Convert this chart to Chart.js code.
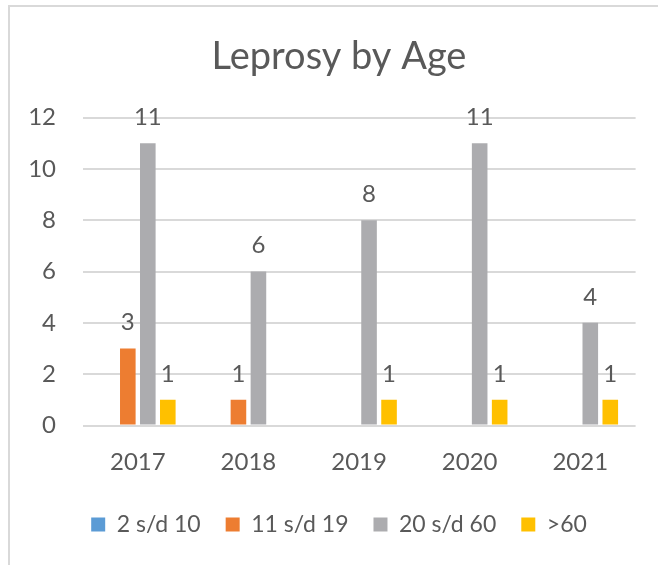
<!DOCTYPE html>
<html>
<head>
<meta charset="utf-8">
<script src="https://cdn.jsdelivr.net/npm/chart.js@4.4.1/dist/chart.umd.min.js"></script>
<style>
  html, body { margin: 0; padding: 0; background: #fff; }
  #wrap { position: relative; width: 658px; height: 565px; overflow: hidden; }
  #frame { position: absolute; left: 8px; top: 5px; width: 700px; height: 600px; border-left: 2px solid #d9d9d9; border-top: 2px solid #d9d9d9; }
  #c { position: absolute; left: 0; top: 0; }
</style>
</head>
<body>
<div id="wrap">
  <div id="frame"></div>
  <canvas id="c" width="658" height="565"></canvas>
</div>
<script>
const titleText = "Leprosy by Age";
const categories = ["2017", "2018", "2019", "2020", "2021"];
const seriesNames = ["2 s/d 10", "11 s/d 19", "20 s/d 60", ">60"];
const age2to10 = [0, 0, 0, 0, 0];
const age11to19 = [3, 1, 0, 0, 0];
const age20to60 = [11, 6, 8, 11, 4];
const age60plus = [1, 0, 1, 1, 1];
const yTicks = [0, 2, 4, 6, 8, 10, 12];

const colors = ["#5B9BD5", "#ED7D31", "#ACACAF", "#FFC000"];
const textColor = "#595959";
const FONT = "Lato";

const seriesValues = [age2to10, age11to19, age20to60, age60plus];

const dataLabels = {
  id: "dataLabels",
  afterDatasetsDraw(chart) {
    const ctx = chart.ctx;
    ctx.save();
    ctx.font = "24px " + FONT;
    ctx.fillStyle = textColor;
    ctx.textAlign = "center";
    ctx.textBaseline = "middle";
    chart.data.datasets.forEach((ds, di) => {
      const meta = chart.getDatasetMeta(di);
      meta.data.forEach((bar, i) => {
        const v = ds.data[i];
        if (v > 0) ctx.fillText(String(v), bar.x, bar.y - 26);
      });
    });
    ctx.restore();
  }
};

new Chart(document.getElementById("c"), {
  type: "bar",
  data: {
    labels: categories,
    datasets: seriesNames.map((name, k) => ({
      label: name,
      data: seriesValues[k],
      backgroundColor: colors[k],
      borderWidth: 0,
      categoryPercentage: 0.723,
      barPercentage: 0.78
    }))
  },
  options: {
    responsive: false,
    animation: false,
    devicePixelRatio: 1,
    layout: { padding: { left: 28, right: 8, top: 0, bottom: 19 } },
    plugins: {
      title: {
        display: true,
        text: titleText,
        color: textColor,
        font: { family: FONT, size: 38, weight: "normal", lineHeight: 1.2 },
        padding: { top: 34, bottom: 38 }
      },
      legend: {
        position: "bottom",
        labels: {
          color: textColor,
          font: { family: FONT, size: 23 },
          boxWidth: 14,
          boxHeight: 14,
          padding: 25
        }
      },
      tooltip: { enabled: false }
    },
    scales: {
      x: {
        grid: { display: false },
        border: { display: false },
        ticks: { color: textColor, font: { family: FONT, size: 24 }, padding: 14.5 },
        afterFit(scale) { scale.height = 62.5; }
      },
      y: {
        min: 0,
        max: 12,
        afterBuildTicks(scale) { scale.ticks = yTicks.map(v => ({ value: v })); },
        grid: { color: "#d9d9d9", lineWidth: 2, drawTicks: false },
        border: { display: false },
        ticks: { color: textColor, font: { family: FONT, size: 24 }, padding: 26.5 },
        afterFit(scale) { scale.width = 54.5; }
      },
      spacer: {
        type: "linear",
        position: "right",
        display: true,
        grid: { display: false },
        border: { display: false },
        ticks: { display: false },
        afterFit(scale) { scale.width = 14.4; }
      }
    }
  },
  plugins: [dataLabels]
});
</script>
</body>
</html>
